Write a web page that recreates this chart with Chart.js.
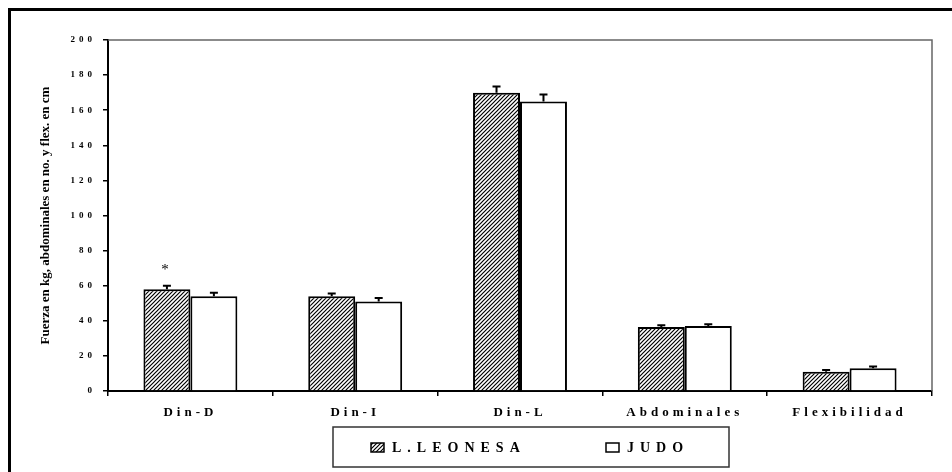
<!DOCTYPE html>
<html>
<head>
<meta charset="utf-8">
<script src="https://cdn.jsdelivr.net/npm/chart.js@4.4.0/dist/chart.umd.min.js"></script>
<style>
html, body { margin: 0; padding: 0; background: #fff; overflow: hidden; }
#wrap { position: relative; width: 952px; height: 472px; }
#frame { position: absolute; left: 8px; top: 8px; width: 980px; height: 500px; border-left: 3px solid #000; border-top: 3px solid #000; }
canvas { position: absolute; left: 0; top: 0; }
</style>
</head>
<body>
<div id="wrap"><div id="frame"></div><canvas id="myChart" width="952" height="472"></canvas></div>
<script>
// data
const categories = ['Din-D', 'Din-I', 'Din-L', 'Abdominales', 'Flexibilidad'];
const seriesNames = ['L.LEONESA', 'JUDO'];
const leonesa = [58, 54, 170, 36.5, 11];
const leonesaErr = [2, 1.5, 3.5, 1, 1];
const judo = [54, 51, 165, 37, 13];
const judoErr = [2, 2, 4, 1, 1];
const marks = ['*', '', '', '', ''];
const yMin = 0, yMax = 200, yStep = 20;
const yTitle = 'Fuerza en kg, abdominales en no. y flex. en cm';

const ctx = document.getElementById('myChart');
const serif = "'Liberation Serif', 'Times New Roman', serif";
Chart.defaults.font.family = serif;
Chart.defaults.color = '#000';

function hatch() {
    const c = document.createElement('canvas');
    c.width = 4; c.height = 4;
    const g = c.getContext('2d');
    g.fillStyle = '#fff';
    g.fillRect(0, 0, 4, 4);
    g.strokeStyle = '#000';
    g.lineWidth = 1.2;
    g.beginPath();
    g.moveTo(0, 4); g.lineTo(4, 0);
    g.moveTo(-1, 1); g.lineTo(1, -1);
    g.moveTo(3, 5); g.lineTo(5, 3);
    g.stroke();
    return g.createPattern(c, 'repeat');
}
const hatchFill = hatch();

// spaced-out lettering like the original
const spacing = {
    id: 'spacing',
    beforeLayout(chart) { chart.ctx.letterSpacing = '4px'; },
    beforeDraw(chart) { chart.ctx.letterSpacing = '4px'; }
};

const errorBars = {
    id: 'errorBars',
    afterDatasetsDraw(chart) {
        const c = chart.ctx;
        const y = chart.scales.y;
        c.save();
        c.strokeStyle = '#000';
        c.lineWidth = 2;
        chart.data.datasets.forEach(function (ds, i) {
            chart.getDatasetMeta(i).data.forEach(function (bar, j) {
                const top = y.getPixelForValue(ds.data[j] + ds.errors[j]);
                c.beginPath();
                c.moveTo(bar.x, bar.y);
                c.lineTo(bar.x, top);
                c.moveTo(bar.x - 4, top);
                c.lineTo(bar.x + 4, top);
                c.stroke();
                if (i == 0 && marks[j]) {
                    c.fillStyle = '#000';
                    c.font = '15px ' + serif;
                    c.textAlign = 'center';
                    c.textBaseline = 'middle';
                    c.letterSpacing = '0px';
                    c.fillText(marks[j], bar.x - 2, top - 16);
                }
            });
        });
        c.restore();
    }
};

const extras = {
    id: 'extras',
    afterDraw(chart) {
        const c = chart.ctx;
        const a = chart.chartArea;
        c.save();
        // grey top/right frame of plot area
        c.strokeStyle = '#666';
        c.lineWidth = 1.5;
        c.beginPath();
        c.moveTo(a.left, a.top);
        c.lineTo(a.right, a.top);
        c.lineTo(a.right, a.bottom);
        c.stroke();

        // y title
        c.letterSpacing = '0px';
        c.fillStyle = '#000';
        c.font = 'bold 13px ' + serif;
        c.textAlign = 'center';
        c.textBaseline = 'middle';
        c.translate(46, (a.top + a.bottom) / 2);
        c.rotate(-Math.PI / 2);
        c.fillText(yTitle, 0, 0);
        c.setTransform(1, 0, 0, 1, 0, 0);

        // legend box
        c.strokeStyle = '#333';
        c.lineWidth = 1.5;
        c.strokeRect(333, 427, 396, 40);
        const items = [[371, 392], [606, 627]];
        c.font = 'bold 14px ' + serif;
        c.letterSpacing = '6px';
        c.textAlign = 'left';
        chart.data.datasets.forEach(function (ds, i) {
            c.fillStyle = ds.backgroundColor;
            c.fillRect(items[i][0], 443, 13, 9);
            c.strokeStyle = '#000';
            c.lineWidth = 1.5;
            c.strokeRect(items[i][0], 443, 13, 9);
            c.fillStyle = '#000';
            c.fillText(ds.label, items[i][1], 448);
        });
        c.restore();
    }
};

new Chart(ctx, {
    type: 'bar',
    data: {
        labels: categories,
        datasets: [{
            label: seriesNames[0],
            data: leonesa,
            errors: leonesaErr,
            backgroundColor: hatchFill,
            borderColor: '#000',
            borderWidth: 2,
            categoryPercentage: 0.57,
            barPercentage: 1
        }, {
            label: seriesNames[1],
            data: judo,
            errors: judoErr,
            backgroundColor: '#fff',
            borderColor: '#000',
            borderWidth: 2,
            categoryPercentage: 0.57,
            barPercentage: 1
        }]
    },
    options: {
        responsive: false,
        animation: false,
        layout: { padding: { left: 0, right: 20, top: 40, bottom: 45 } },
        plugins: {
            legend: { display: false },
            tooltip: { enabled: false }
        },
        scales: {
            x: {
                grid: { display: true, drawOnChartArea: false, drawTicks: true, tickLength: 5, color: '#000', lineWidth: 1.5 },
                border: { display: true, color: '#000', width: 2 },
                ticks: { font: { size: 13, weight: 'bold' }, padding: 9, maxRotation: 0 },
                afterFit: function (scale) { scale.height = 36; }
            },
            y: {
                min: yMin,
                max: yMax,
                grid: { display: true, drawOnChartArea: false, drawTicks: true, tickLength: 5, color: '#000', lineWidth: 1.5 },
                border: { display: true, color: '#000', width: 2 },
                ticks: { stepSize: yStep, font: { size: 9, weight: 'bold' }, padding: 7 },
                afterFit: function (scale) { scale.width = 108; }
            }
        }
    },
    plugins: [spacing, errorBars, extras]
});
</script>
</body>
</html>
